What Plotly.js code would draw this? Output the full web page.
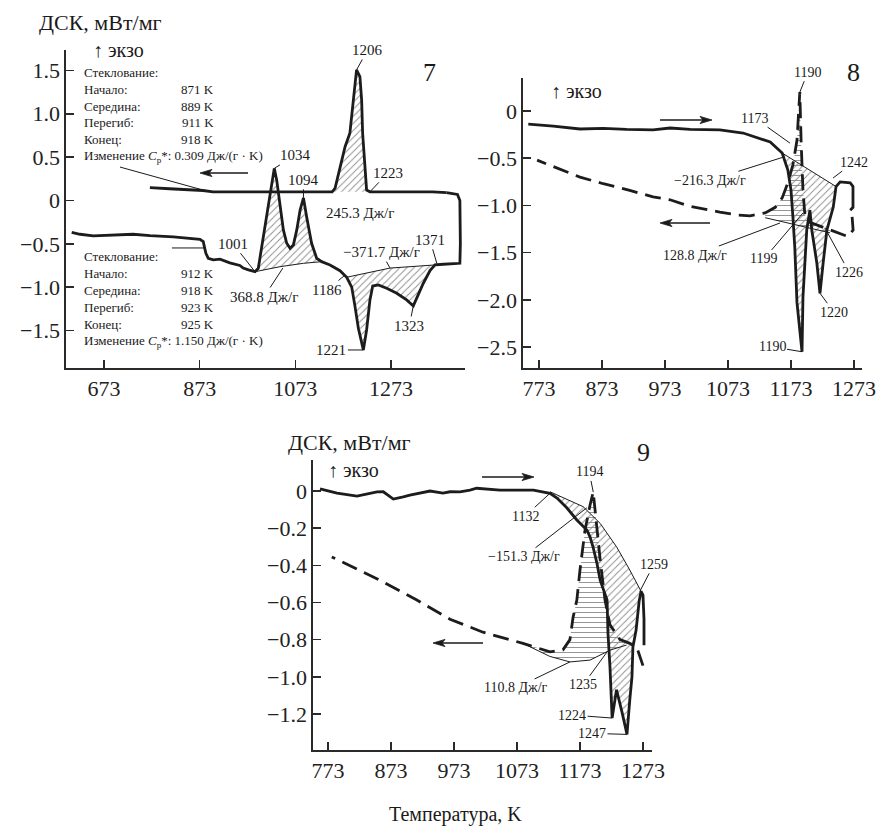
<!DOCTYPE html>
<html><head><meta charset="utf-8">
<script src="https://cdn.plot.ly/plotly-3.0.1.min.js"></script>
<style>html,body{margin:0;padding:0;background:#fff}#chart{width:878px;height:831px}</style>
</head><body><div id="chart"></div>
<script>
// ================= DATA =================
// Panel 7: heating (lower) curve, then rise to the cooling branch
const p7HeatT = [605.5,623,650.6,685.5,734,769,818,873.7,880.6,882,886,891,901.5,915.5,936,957,964,975,988.7,995.6,1006,1016.5,1024,1029,1034,1039.6,1041,1048,1055,1062,1069,1076,1083,1090,1096.6,1107,1117.6,1128,1145.5,1166.4,1180.4,1190.9,1197.8,1204.8,1215.2,1222,1229,1234.8,1246.5,1264,1285,1305.7,1319.6,1340.6,1354.6,1365,1382.4,1417,1418,1418,1417,1412,1389];
const p7HeatV = [-0.367,-0.39,-0.409,-0.398,-0.39,-0.406,-0.421,-0.448,-0.475,-0.513,-0.609,-0.667,-0.686,-0.678,-0.72,-0.75,-0.78,-0.80,-0.822,-0.782,-0.418,-0.072,0.2,0.37,0.237,0.006,-0.11,-0.34,-0.494,-0.552,-0.513,-0.34,-0.11,0.03,-0.187,-0.494,-0.667,-0.706,-0.744,-0.81,-0.886,-1.0,-1.225,-1.475,-1.725,-1.494,-1.148,-0.987,-0.975,-1.013,-1.071,-1.148,-1.217,-0.955,-0.81,-0.744,-0.736,-0.725,-0.5,-0.1,0.0,0.07,0.09];
// Panel 7: cooling (upper) curve
const p7CoolT = [1389,1360,1330,1290,1250,1229,1222,1218.5,1213.7,1211.6,1208,1201,1194,1187,1177,1166.4,1156,1150,1120,1090,1050,1010,970,930,901,880,850,810,769];
const p7CoolV = [0.09,0.1,0.1,0.1,0.1,0.1,0.12,0.39,0.775,1.16,1.43,1.506,1.16,0.775,0.62,0.39,0.14,0.1,0.1,0.1,0.1,0.105,0.1,0.1,0.1,0.115,0.12,0.135,0.148];
// Panel 7 integration baselines
const p7ExoBaseT = [1150,1229];            const p7ExoBaseV = [0.1,0.1];
const p7Endo1BaseT = [988.7,1041,1090,1128]; const p7Endo1BaseV = [-0.822,-0.764,-0.725,-0.706];
const p7Endo2BaseT = [1180.4,1271,1365];    const p7Endo2BaseV = [-0.886,-0.78,-0.744];
// Panel 7 labels
const p7LabelText = ['1206','1034','1094','1223','1001','368.8 Дж/г','1186','\u2212371.7 Дж/г','1371','1323','1221'];
const p7LabelT = [1201,1029,1090,1229,988.7,1047,1177,1271,1369,1319.6,1215.2];
const p7LabelV = [1.506,0.37,0.03,0.1,-0.822,-0.78,-0.86,-0.78,-0.73,-1.217,-1.725];
const p7GlassNames = ['Стеклование:','Начало:','Середина:','Перегиб:','Конец:'];
const p7GlassUpper = ['871 K','889 K','911 K','918 K'];
const p7GlassLower = ['912 K','918 K','923 K','925 K'];
const p7CpUpper = '0.309 Дж/(г · K)';
const p7CpLower = '1.150 Дж/(г · K)';
const p7GlassT = [880,884]; const p7GlassV = [0.12,-0.548];

// Panel 8: heating (solid) and cooling (dashed)
const p8HeatT = [756,795.7,838,875,912,954,981,1013,1060,1097,1140,1159,1168,1173,1176,1179,1182.5,1190.5,1192,1197,1198,1203,1206,1214,1219,1224,1230,1240,1244.5,1251,1267,1271.4,1271.4,1267];
const p8HeatV = [-0.138,-0.159,-0.19,-0.183,-0.194,-0.2,-0.18,-0.194,-0.2,-0.233,-0.328,-0.445,-0.625,-0.837,-1.12,-1.44,-2.03,-2.55,-1.97,-1.44,-1.26,-1.05,-1.26,-1.61,-1.93,-1.61,-1.26,-1.02,-0.80,-0.75,-0.76,-0.80,-1.02,-1.05];
const p8CoolT = [1270,1271.6,1263.5,1251,1235,1219,1203,1195,1192,1189,1187,1187,1182.5,1176,1168,1159,1148,1132,1108,1087,1060,1013,981,954,917,875,838,795,770];
const p8CoolV = [-1.12,-1.26,-1.33,-1.30,-1.26,-1.22,-1.18,-1.10,-0.84,-0.31,0.12,0.20,-0.31,-0.57,-0.76,-0.92,-1.02,-1.08,-1.11,-1.10,-1.07,-1.01,-0.94,-0.91,-0.84,-0.77,-0.70,-0.59,-0.52];
const p8EndoBaseT = [1159,1244.5]; const p8EndoBaseV = [-0.445,-0.80];
const p8ExoBaseT = [1132,1235];    const p8ExoBaseV = [-1.13,-1.29];
const p8LabelText = ['1190','1173','\u2212216.3 Дж/г','1242','128.8 Дж/г','1199','1226','1220','1190'];
const p8LabelT = [1187,1171.4,1160,1239.7,1155.5,1192,1227,1219,1190.5];
const p8LabelV = [0.20,-0.34,-0.49,-0.71,-1.186,-1.08,-1.24,-1.93,-2.55];

// Panel 9: heating (solid) and cooling (dashed)
const p9HeatT = [760.3,787.3,819,850.8,860.8,876.7,892.5,903,935,955.5,966.7,982.5,998.4,1009,1046,1099,1125.4,1136.5,1152,1168,1184,1189,1193.6,1200,1205,1216,1217.4,1220.6,1224,1231,1239.7,1247.6,1252,1255.5,1257,1262,1267,1270,1273,1274.6,1274.6];
const p9HeatV = [0.011,-0.011,-0.027,-0.005,-0.004,-0.043,-0.031,-0.022,0,-0.011,-0.004,-0.005,0.005,0.015,0.005,0.005,-0.012,-0.038,-0.09,-0.156,-0.21,-0.248,-0.30,-0.39,-0.48,-0.587,-0.764,-0.947,-1.222,-1.07,-1.19,-1.31,-1.125,-1.0,-0.84,-0.75,-0.59,-0.54,-0.56,-0.69,-0.83];
const p9CoolT = [1273,1263.5,1252,1236.5,1220.6,1212.7,1205,1198.9,1194,1189,1181,1173,1168,1162,1157,1146,1125.4,1082.5,1019,966.7,914,855.5,779];
const p9CoolV = [-0.94,-0.845,-0.82,-0.80,-0.72,-0.587,-0.37,-0.156,-0.005,-0.075,-0.21,-0.425,-0.587,-0.68,-0.80,-0.855,-0.866,-0.82,-0.76,-0.69,-0.587,-0.48,-0.355];
const p9EndoBaseT = [1125.4,1178,1205,1231,1252,1270]; const p9EndoBaseV = [-0.004,-0.084,-0.174,-0.30,-0.425,-0.54];
const p9ExoBaseT = [1082.5,1125,1157,1189,1221,1247]; const p9ExoBaseV = [-0.82,-0.89,-0.92,-0.91,-0.856,-0.829];
const p9LabelText = ['1194','1132','\u2212151.3 Дж/г','1259','110.8 Дж/г','1235','1224','1247'];
const p9LabelT = [1194,1125.4,1184,1268,1157,1216,1224,1247.6];
const p9LabelV = [-0.005,-0.012,-0.09,-0.54,-0.92,-0.866,-1.222,-1.31];

// Axis ticks
const p7TickX = [673,873,1073,1273];
const p7TickY = [1.5,1.0,0.5,0,-0.5,-1.0,-1.5];
const p7TickYText = ['1.5','1.0','0.5','0','\u22120.5','\u22121.0','\u22121.5'];
const p89TickX = [773,873,973,1073,1173,1273];
const p8TickY = [0,-0.5,-1.0,-1.5,-2.0,-2.5];
const p8TickYText = ['0','\u22120.5','\u22121.0','\u22121.5','\u22122.0','\u22122.5'];
const p9TickY = [0,-0.2,-0.4,-0.6,-0.8,-1.0,-1.2];
const p9TickYText = ['0','\u22120.2','\u22120.4','\u22120.6','\u22120.8','\u22121.0','\u22121.2'];

// ================= BUILD =================
const W = 878, H = 831;
const SERIF = '"Liberation Serif", "DejaVu Serif", serif';
const INK = '#1c1c1c';

function band(cT, cV, lo, hi, bT, bV) {
  const xs = [], ys = [];
  cT.forEach((t, i) => { if (t >= lo && t <= hi) { xs.push(t); ys.push(cV[i]); } });
  const idx = bT.map((_, i) => i);
  if (xs[xs.length - 1] > xs[0]) idx.reverse();
  idx.forEach(i => { xs.push(bT[i]); ys.push(bV[i]); });
  return { xs, ys };
}
function fillTrace(b, n, shape) {
  return { type: 'scatter', mode: 'none', x: b.xs, y: b.ys, xaxis: 'x' + n, yaxis: 'y' + n,
    fill: 'toself', fillcolor: 'rgba(0,0,0,0)', hoverinfo: 'skip',
    fillpattern: { shape: shape, fgcolor: '#8a8a8a', bgcolor: 'rgba(255,255,255,0)', size: 5, solidity: 0.18 } };
}
function lineTrace(x, y, n, width, dash) {
  return { type: 'scatter', mode: 'lines', x, y, xaxis: 'x' + n, yaxis: 'y' + n, hoverinfo: 'skip',
    line: { color: INK, width, dash: dash || 'solid', shape: 'linear' } };
}

const traces = [
  fillTrace(band(p7CoolT, p7CoolV, 1150, 1229, p7ExoBaseT, p7ExoBaseV), '', '/'),
  fillTrace(band(p7HeatT, p7HeatV, 988.7, 1128, p7Endo1BaseT, p7Endo1BaseV), '', '/'),
  fillTrace(band(p7HeatT, p7HeatV, 1180.4, 1365, p7Endo2BaseT, p7Endo2BaseV), '', '/'),
  lineTrace(p7Endo1BaseT, p7Endo1BaseV, '', 1),
  lineTrace(p7Endo2BaseT, p7Endo2BaseV, '', 1),
  lineTrace(p7HeatT, p7HeatV, '', 2.8),
  lineTrace(p7CoolT, p7CoolV, '', 2.8),

  fillTrace(band(p8HeatT, p8HeatV, 1159, 1244.5, p8EndoBaseT, p8EndoBaseV), '2', '/'),
  fillTrace(band(p8CoolT, p8CoolV, 1132, 1235, p8ExoBaseT, p8ExoBaseV), '2', '-'),
  lineTrace(p8EndoBaseT, p8EndoBaseV, '2', 1),
  lineTrace(p8ExoBaseT, p8ExoBaseV, '2', 1),
  lineTrace(p8HeatT, p8HeatV, '2', 2.8),
  lineTrace(p8CoolT, p8CoolV, '2', 2.8, '16px,8px'),

  fillTrace(band(p9HeatT, p9HeatV, 1125.4, 1270, p9EndoBaseT, p9EndoBaseV), '3', '/'),
  fillTrace(band(p9CoolT, p9CoolV, 1082.5, 1236.5, p9ExoBaseT, p9ExoBaseV), '3', '-'),
  lineTrace(p9EndoBaseT, p9EndoBaseV, '3', 1),
  lineTrace(p9ExoBaseT, p9ExoBaseV, '3', 1),
  lineTrace(p9HeatT, p9HeatV, '3', 2.8),
  lineTrace(p9CoolT, p9CoolV, '3', 2.8, '16px,8px')
];

function axisBase() {
  return { showline: true, linecolor: '#2a2a2a', linewidth: 1.6, ticks: 'inside', ticklen: 8,
    tickwidth: 1.6, tickcolor: '#2a2a2a', showgrid: false, zeroline: false, fixedrange: true,
    tickfont: { family: SERIF, size: 22, color: '#222' }, tickmode: 'array' };
}
const layout = {
  width: W, height: H, margin: { l: 0, r: 0, t: 0, b: 0 }, showlegend: false,
  paper_bgcolor: '#fff', plot_bgcolor: 'rgba(0,0,0,0)',
  xaxis: Object.assign(axisBase(), { domain: [66 / W, 465 / W], range: [593.6, 1427.7], anchor: 'y', tickvals: p7TickX, ticktext: p7TickX.map(String) }),
  yaxis: Object.assign(axisBase(), { domain: [1 - 368 / H, 1 - 50 / H], range: [-1.933, 1.736], anchor: 'x', tickvals: p7TickY, ticktext: p7TickYText }),
  xaxis2: Object.assign(axisBase(), { domain: [523 / W, 862 / W], range: [747.6, 1285.7], anchor: 'y2', tickvals: p89TickX, ticktext: p89TickX.map(String) }),
  yaxis2: Object.assign(axisBase(), { domain: [1 - 368 / H, 1 - 78 / H], range: [-2.722, 0.35], anchor: 'x2', tickvals: p8TickY, ticktext: p8TickYText }),
  xaxis3: Object.assign(axisBase(), { domain: [313 / W, 652 / W], range: [749.2, 1287.3], anchor: 'y3', tickvals: p89TickX, ticktext: p89TickX.map(String) }),
  yaxis3: Object.assign(axisBase(), { domain: [1 - 750 / H, 1 - 460 / H], range: [-1.394, 0.167], anchor: 'x3', tickvals: p9TickY, ticktext: p9TickYText }),
  annotations: [],
  shapes: []
};

const A = layout.annotations, S = layout.shapes;
function ptxt(text, x, y, size, anchor) {
  A.push({ xref: 'paper', yref: 'paper', x: x / W, y: 1 - y / H, text, showarrow: false,
    xanchor: anchor || 'center', yanchor: 'middle', font: { family: SERIF, size, color: '#1a1a1a' } });
}
// horizontal direction arrow drawn as pixel-sized shapes anchored on the page
function dirArrow(hx, hy, tx) {
  const len = tx - hx, sgn = Math.sign(len);
  const base = { xref: 'paper', yref: 'paper', xsizemode: 'pixel', ysizemode: 'pixel',
    xanchor: hx / W, yanchor: 1 - hy / H };
  S.push(Object.assign({ type: 'path', path: 'M ' + (sgn * 6) + ',0 L ' + len + ',0',
    line: { color: '#1a1a1a', width: 1.4 } }, base));
  S.push(Object.assign({ type: 'path', path: 'M 0,0 L ' + (sgn * 12) + ',3.6 L ' + (sgn * 9) + ',0 L ' + (sgn * 12) + ',-3.6 Z',
    fillcolor: '#1a1a1a', line: { color: '#1a1a1a', width: 0.8 } }, base));
}
function leader(n, T, V, dx, dyUp) {
  S.push({ type: 'line', xref: 'x' + n, yref: 'y' + n, xsizemode: 'pixel', ysizemode: 'pixel',
    xanchor: T, yanchor: V, x0: 0, y0: 0, x1: dx, y1: dyUp, line: { color: '#1a1a1a', width: 1 } });
}
function labels(n, texts, Ts, Vs, offs, size) {
  texts.forEach((t, i) => {
    A.push({ xref: 'x' + n, yref: 'y' + n, x: Ts[i], y: Vs[i], text: t, ax: offs[i][0], ay: offs[i][1],
      showarrow: true, arrowhead: 0, arrowwidth: 1, arrowcolor: '#1a1a1a', standoff: 0,
      font: { family: SERIF, size, color: '#1a1a1a' } });
  });
}

// Titles
ptxt('ДСК, мВт/мг', 100, 23, 22);
ptxt('ДСК, мВт/мг', 349, 443, 22);
ptxt('Температура, K', 455, 814, 20);
ptxt('\u2191 экзо', 118, 50, 20);
ptxt('\u2191 экзо', 576, 91, 20);
ptxt('\u2191 экзо', 353, 470, 20);
ptxt('7', 429, 72, 26);
ptxt('8', 853, 73, 26);
ptxt('9', 643, 452, 26);

// Panel 7 glass transition blocks
p7GlassNames.forEach((t, i) => ptxt(t, 82, 73 + 16.6 * i, 13, 'left'));
p7GlassUpper.forEach((t, i) => ptxt(t, 216, 89.6 + 16.6 * i, 13, 'right'));
ptxt('Изменение <i>C</i><sub>p</sub>*: ' + p7CpUpper, 82, 156, 13, 'left');
p7GlassNames.forEach((t, i) => ptxt(t, 82, 256 + 17 * i, 13, 'left'));
p7GlassLower.forEach((t, i) => ptxt(t, 216, 273 + 17 * i, 13, 'right'));
ptxt('Изменение <i>C</i><sub>p</sub>*: ' + p7CpLower, 82, 341, 13, 'left');
leader('', p7GlassT[0], p7GlassV[0], -83, 23);
leader('', p7GlassT[1], p7GlassV[1], -33, 0);
ptxt('245.3 Дж/г', 360, 213, 15);

// Peak labels (pixel offsets of text from the point)
labels('', p7LabelText, p7LabelT, p7LabelV,
  [[11,-20],[21,-13],[0,-18],[18,-19],[-22,-28],[-19,29],[-18,15],[-9,-16],[-7,-24],[-4,20],[-32,0]], 15);
labels('2', p8LabelText, p8LabelT, p8LabelV,
  [[8,-20],[-35,-25],[-73,23],[21,-16],[-85,32],[-39,46],[24,44],[14,19],[-30,-5]], 14);
labels('3', p9LabelText, p9LabelT, p9LabelV,
  [[-4,-20],[-25,23],[-63,49],[14,-27],[-54,26],[-24,33],[-40,-3],[-35,-1]], 14);

// Direction arrows (head x, y, tail x)
dirArrow(200, 173, 248);
dirArrow(712, 120, 660);
dirArrow(660, 223, 710);
dirArrow(534, 477, 482);
dirArrow(433, 643, 483);

Plotly.newPlot('chart', traces, layout, { displayModeBar: false, staticPlot: true });
</script>
</body></html>
